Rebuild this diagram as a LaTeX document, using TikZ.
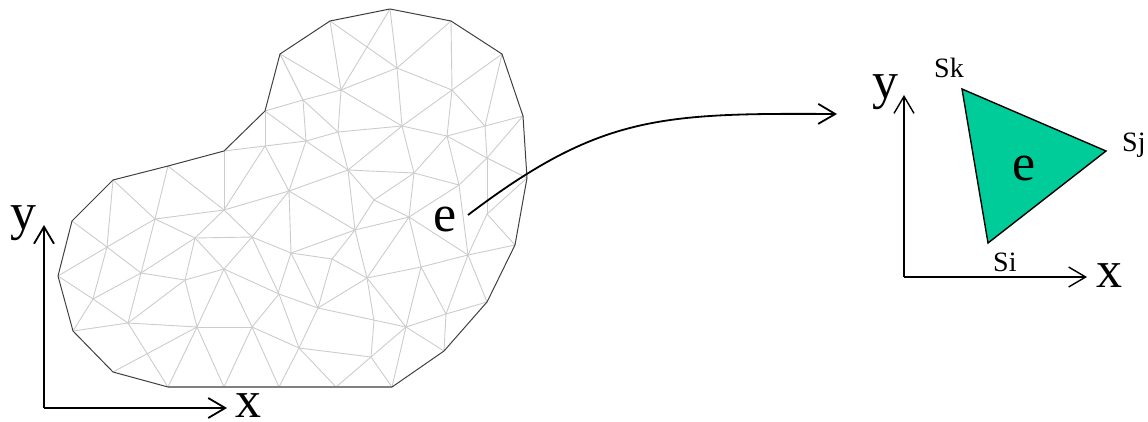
\documentclass[tikz,border=0pt]{standalone}
\usepackage{fontspec}
\setmainfont{Liberation Serif}
\usetikzlibrary{arrows.meta}
\definecolor{elemgreen}{HTML}{00CC99}
\tikzset{
  meshline/.style={gray!40,line width=0.9pt},
  outline/.style={black!75,line width=1pt,line join=round},
  axisline/.style={black,line width=1.8pt,-{Straight Barb[length=17pt,width=20pt,line width=1.8pt]}},
  thinaxis/.style={black,line width=1.4pt,-{Straight Barb[length=17pt,width=20pt,line width=1.4pt]}},
  biglabel/.style={inner sep=0pt,anchor=base west,font=\fontsize{52}{52}\selectfont},
  smalllabel/.style={inner sep=0pt,anchor=base west,font=\fontsize{28}{28}\selectfont}
}
\begin{document}
\begin{tikzpicture}[x=1pt,y=-1pt]
\useasboundingbox (0,0) rectangle (1148,421);
% mesh edges
\foreach \a/\b/\c/\d in {
280/54/341/90, 280/54/303/100, 330/21/341/90, 330/21/397/68, 390/9/341/90, 390/9/397/68,
451/21/397/68, 451/21/452/90, 502/54/452/90, 502/54/485/126, 397/68/452/90, 397/68/341/90,
397/68/402/126, 341/90/303/100, 341/90/338/132, 341/90/402/126, 452/90/402/126, 452/90/447/136,
452/90/485/126, 523/116/485/126, 523/116/487/158, 485/126/447/136, 485/126/487/158, 447/136/402/126,
447/136/487/158, 447/136/414/173, 447/136/459/185, 402/126/338/132, 402/126/348/170, 402/126/414/173,
338/132/303/100, 338/132/306/141, 338/132/348/170, 303/100/306/141, 303/100/265/111, 306/141/265/146,
265/111/306/141, 265/111/265/146, 265/146/224/151, 348/170/414/173, 348/170/306/141, 348/170/289/191,
306/141/289/191, 487/158/527/178, 487/158/459/185, 487/158/487/214, 414/173/459/185, 414/173/409/217,
414/173/374/200, 459/185/409/217, 459/185/468/255, 348/170/374/200, 348/170/355/230, 374/200/355/230,
374/200/409/217, 409/217/355/230, 409/217/367/278, 409/217/421/267, 409/217/468/255,
289/191/291/253, 289/191/355/230, 289/191/252/237, 289/191/224/210, 289/191/265/146, 265/146/224/210,
224/151/224/210, 224/210/252/237, 252/237/291/253, 252/237/224/269, 291/253/278/293, 291/253/318/308,
291/253/355/230, 291/253/332/259, 355/230/332/259, 355/230/367/278, 332/259/367/278, 332/259/318/308,
367/278/318/308, 367/278/374/321, 374/321/371/357, 367/278/406/327, 318/308/406/327, 367/278/421/267,
421/267/468/255, 421/267/446/314, 421/267/406/327, 468/255/446/314, 468/255/487/302, 468/255/515/245,
468/255/487/214, 487/214/515/245, 487/214/527/178, 446/314/406/327, 446/314/487/302, 446/314/444/351,
406/327/444/351, 406/327/392/387, 406/327/371/357, 371/357/392/387, 371/357/336/387, 299/348/371/357,
299/348/336/387, 299/348/318/308, 299/348/279/387, 318/308/279/294, 299/348/279/294, 299/348/252/327,
113/180/107/247, 113/180/155/219, 168/166/155/219, 168/166/224/210, 224/210/155/219, 224/210/195/238,
72/221/107/247, 107/247/155/219, 107/247/141/273, 107/247/58/276, 107/247/93/299, 155/219/195/238,
155/219/141/273, 141/273/195/238, 141/273/185/280, 141/273/93/299, 141/273/128/323, 195/238/252/237,
195/238/185/280, 195/238/224/269, 252/237/279/294, 224/269/185/280, 185/280/128/323, 185/280/197/327,
224/269/197/327, 224/269/252/327, 224/269/279/294, 279/294/252/327, 128/323/197/327, 128/323/93/299,
128/323/73/331, 128/323/168/387, 113/372/197/327, 93/299/58/276, 93/299/73/331, 197/327/168/387,
197/327/224/387, 252/327/224/387, 252/327/279/387, 252/327/197/327}
  \draw[meshline] (\a,\b) -- (\c,\d);
% outline
\draw[outline] (392,387) -- (444,351) -- (487,302) -- (515,245) -- (527,178) -- (523,116) -- (502,54)
  -- (451,21) -- (390,9) -- (330,21) -- (280,54) -- (265,111) -- (224,151) -- (168,166) -- (113,180)
  -- (72,221) -- (58,276) -- (73,331) -- (113,372) -- (168,387);
\draw[gray,line width=1.6pt] (168,387) -- (392,387);
% left axes
\coordinate (leftorigin) at (44,408);
\coordinate (leftytip) at (44,225);
\coordinate (leftxtip) at (227,408);
\draw[axisline] (leftorigin) -- (leftytip);
\draw[axisline] (leftorigin) -- (leftxtip);
\node[biglabel] (lefty) at (10,229) {y};
\node[biglabel] (leftx) at (235,417) {x};
\node[biglabel] (meshe) at (433,231) {e};
% arrow to element
\coordinate (arrowstart) at (468,215);
\coordinate (arrowend) at (837,114);
\draw[axisline] (arrowstart) .. controls (600,115) and (660,113) .. (arrowend);
% element
\coordinate (si) at (988,243);
\coordinate (sj) at (1106,151);
\coordinate (sk) at (962,89);
\draw[fill=elemgreen,line width=1.4pt,line join=miter] (si) -- (sj) -- (sk) -- cycle;
\node[biglabel] (eleme) at (1012,180) {e};
\node[smalllabel] (silabel) at (993,271) {Si};
\node[smalllabel] (sjlabel) at (1122,151) {Sj};
\node[smalllabel] (sklabel) at (934,77) {Sk};
% right axes
\coordinate (rightorigin) at (904,277);
\coordinate (rightytip) at (904,95);
\coordinate (rightxtip) at (1087,277);
\draw[thinaxis] (rightorigin) -- (rightytip);
\draw[thinaxis] (rightorigin) -- (rightxtip);
\node[biglabel] (righty) at (872,98) {y};
\node[biglabel] (rightx) at (1096,287) {x};
\end{tikzpicture}
\end{document}
